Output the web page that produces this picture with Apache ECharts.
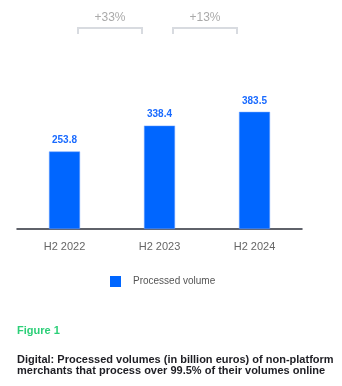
<!DOCTYPE html>
<html><head><meta charset="utf-8">
<script src="https://cdn.jsdelivr.net/npm/echarts@6/dist/echarts.min.js"></script>
<style>html,body{margin:0;padding:0;background:#fff}#c{width:342px;height:386px}</style>
</head><body><div id="c"></div>
<script>
const categories = ['H2 2022', 'H2 2023', 'H2 2024'];
const processedVolume = [253.8, 338.4, 383.5];
const growthLabels = ['+33%', '+13%'];
const seriesName = 'Processed volume';
const figureLabel = 'Figure 1';
const captionLines = ['Digital: Processed volumes (in billion euros) of non-platform', 'merchants that process over 99.5% of their volumes online'];

const chart = echarts.init(document.getElementById('c'));
const FONT = 'Liberation Sans, Arial, sans-serif';
const option = {
  animation: false,
  grid: { left: 17, right: 40, top: 10, bottom: 157 },
  xAxis: {
    type: 'category', data: categories,
    axisLine: { lineStyle: { color: '#2b2f3a', width: 1.5 } },
    axisTick: { show: false },
    axisLabel: { color: '#666', fontSize: 11, fontFamily: FONT, margin: 12 }
  },
  yAxis: { type: 'value', min: 0, max: 717, show: false, splitLine: { show: false } },
  legend: {
    data: [seriesName], left: 105, top: 271, itemWidth: 11, itemHeight: 11, itemGap: 0,
    icon: 'rect',
    itemStyle: { borderWidth: 0, color: '#0066ff' },
    textStyle: { color: '#555', fontSize: 10, fontFamily: FONT, padding: [0, 0, 0, 7] }
  },
  series: [{
    name: seriesName, type: 'bar', data: processedVolume, barWidth: 31,
    itemStyle: { color: '#0066ff', borderColor: '#6fa3ff', borderWidth: 0.5 },
    label: { show: true, position: 'top', distance: 6, color: '#1a6bff', fontWeight: 'bold', fontSize: 10, fontFamily: FONT,
      formatter: p => p.value.toFixed(1) }
  }],
  graphic: [
    { type: 'text', left: 17, top: 325, style: { text: figureLabel, fill: '#2ccf78', font: 'bold 11px ' + FONT } },
    { type: 'text', left: 17, top: 354, style: { text: captionLines.join('\n'), fill: '#1e1e24', font: 'bold 11px ' + FONT, lineHeight: 11 } }
  ]
};
chart.setOption(option);

// growth brackets between adjacent categories
const extra = [];
for (let i = 0; i < growthLabels.length; i++) {
  const x1 = chart.convertToPixel({ xAxisIndex: 0 }, categories[i]);
  const x2 = chart.convertToPixel({ xAxisIndex: 0 }, categories[i + 1]);
  const mid = (x1 + x2) / 2 - 2;
  extra.push({ type: 'polyline', shape: { points: [[mid - 32, 34], [mid - 32, 28], [mid + 32, 28], [mid + 32, 34]] },
    style: { stroke: '#d8dbe0', lineWidth: 2, fill: null } });
  extra.push({ type: 'text', x: mid, y: 18, style: { text: growthLabels[i], fill: '#aaaaaa', font: '12px ' + FONT, textAlign: 'center', textVerticalAlign: 'middle' } });
}
chart.setOption({ graphic: option.graphic.concat(extra) });
</script></body></html>
